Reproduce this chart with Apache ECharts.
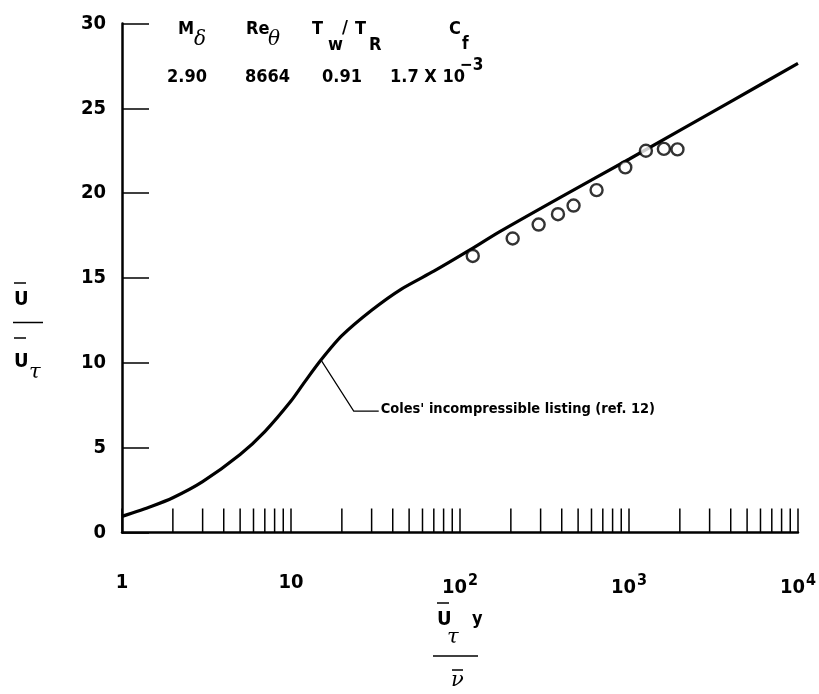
<!DOCTYPE html>
<html><head><meta charset="utf-8">
<script src="https://cdn.jsdelivr.net/npm/echarts@6/dist/echarts.min.js"></script>
<style>html,body{margin:0;padding:0;background:#fff}#c{width:819px;height:694px}</style>
</head><body><div id="c"></div>
<script>
// ---- data ----
const curveX = [1, 1.5, 2, 3, 5, 7, 10, 12, 15, 20, 30, 45, 70, 110, 171, 400, 1000, 4000, 10000];
const curveY = [0.95, 1.55, 2.05, 3.0, 4.6, 5.95, 7.75, 8.85, 10.15, 11.6, 13.1, 14.35, 15.4, 16.55, 17.72, 19.8, 22.0, 25.4, 27.65];
const pointsX = [119, 205, 292, 380, 470, 643, 951, 1259, 1609, 1936];
const pointsY = [16.30, 17.33, 18.15, 18.76, 19.27, 20.18, 21.52, 22.50, 22.61, 22.58];
const xMajorLabels = {1: '{b|1}', 10: '{b|10}', 100: '{b|10}{s|2}', 1000: '{b|10}{s|3}', 10000: '{b|10}{s|4}'};
const minorMantissa = [2, 3, 4, 5, 6, 7, 8, 9];
const decades = [1, 10, 100, 1000];
const annoAnchor = [15.2, 10.1];
const annoText = "Coles' incompressible listing (ref. 12)";

const FONT = "'DejaVu Sans Condensed', 'Liberation Sans Narrow', 'Liberation Sans', sans-serif";
const minorTicks = [];
decades.forEach(d => minorMantissa.forEach(m => minorTicks.push([m * d, 0])));

const chart = echarts.init(document.getElementById('c'), null, {renderer: 'canvas'});
const option = {
  backgroundColor: '#fff',
  animation: false,
  grid: {left: 122, right: 20, top: 23.5, bottom: 161.5, containLabel: false},
  xAxis: {
    type: 'log', logBase: 10, min: 1, max: 10000,
    axisLine: {lineStyle: {color: '#000', width: 2.5}},
    axisTick: {inside: true, length: 24, lineStyle: {color: '#000', width: 1.5}},
    splitLine: {show: false},
    axisLabel: {
      margin: 40, color: '#000',
      formatter: v => xMajorLabels[Math.round(v)] || '',
      rich: {
        b: {fontFamily: FONT, fontSize: 20, fontWeight: 'bold', color: '#000'},
        s: {fontFamily: FONT, fontSize: 16, fontWeight: 'bold', color: '#000', verticalAlign: 'top', padding: [0, 0, 14, 1]}
      }
    }
  },
  yAxis: {
    type: 'value', min: 0, max: 30, interval: 5,
    axisLine: {show: true, lineStyle: {color: '#000', width: 2.5}},
    axisTick: {show: true, inside: true, length: 27, lineStyle: {color: '#000', width: 1.5}},
    splitLine: {show: false},
    axisLabel: {margin: 16, color: '#000', fontFamily: FONT, fontSize: 20, fontWeight: 'bold'}
  },
  series: [
    {
      type: 'line', data: curveX.map((x, i) => [x, curveY[i]]),
      smooth: 0.25, symbol: 'none',
      lineStyle: {color: '#000', width: 3.2}, z: 3
    },
    {
      type: 'scatter', data: pointsX.map((x, i) => [x, pointsY[i]]),
      symbol: 'circle', symbolSize: 12,
      itemStyle: {color: '#fff', borderColor: '#000', borderWidth: 2.4}, z: 4
    },
    {
      type: 'custom', data: minorTicks, clip: false,
      renderItem: (params, api) => {
        const p = api.coord([api.value(0), 0]);
        return {type: 'line', shape: {x1: p[0], y1: p[1], x2: p[0], y2: p[1] - 24},
          style: {stroke: '#000', lineWidth: 1.5}};
      }, z: 2
    }
  ]
};
chart.setOption(option);

// ---- annotation and titles ----
const a = chart.convertToPixel({gridIndex: 0}, annoAnchor);
const txt = (x, y, t, fs, extra) => Object.assign({type: 'text', left: x, top: y,
  style: {text: t, fontFamily: FONT, fontSize: fs, fontWeight: 'bold', fill: '#000'}}, extra || {});
const greek = (x, y, t, fs) => ({type: 'text', left: x, top: y,
  style: {text: t, fontFamily: "'DejaVu Serif', serif", fontSize: fs, fontStyle: 'italic', fill: '#000'}});
const line = (x1, y1, x2, y2, w) => ({type: 'line', shape: {x1, y1, x2, y2}, style: {stroke: '#000', lineWidth: w || 2}});

const g = [
  // leader line
  {type: 'polyline', shape: {points: [[a[0], a[1]], [a[0] + 32, a[1] + 50], [a[0] + 57, a[1] + 50]]},
    style: {stroke: '#000', lineWidth: 1.2, fill: null}},
  {type: 'text', left: a[0] + 59, top: a[1] + 41,
    style: {text: annoText, fontFamily: FONT, fontSize: 14.5, fontWeight: 'bold', fill: '#000'}},
  // header row 1
  txt(178, 20, 'M', 18), greek(194, 30, 'δ', 20),
  txt(246, 20, 'Re', 18), greek(268, 30, 'θ', 20),
  txt(312, 20, 'T', 18), txt(328, 36, 'w', 18), txt(342, 19, '/', 18), txt(355, 20, 'T', 18), txt(369, 36, 'R', 18),
  txt(449, 20, 'C', 18), txt(462, 36, 'f', 17),
  // header row 2
  txt(167, 68, '2.90', 18), txt(245, 68, '8664', 18), txt(322, 68, '0.91', 18),
  txt(390, 68, '1.7 X 10', 18), txt(460, 57, '−3', 17),
  // y title
  txt(14, 290, 'U', 20), line(14, 283, 26, 283, 1.5),
  line(13, 322.5, 43, 322.5, 1.5),
  line(14, 338, 26, 338, 1.5), txt(14, 352, 'U', 20), greek(29, 362, 'τ', 21),
  // x title
  line(437, 603, 449, 603, 1.5), txt(437, 610, 'U', 20), greek(447, 627, 'τ', 21), txt(472, 610, 'y', 18),
  line(433, 656, 478, 656, 1.5),
  line(452, 670, 463, 670, 1.5), greek(451, 670, 'ν', 21)
];
chart.setOption({graphic: g});
</script></body></html>
